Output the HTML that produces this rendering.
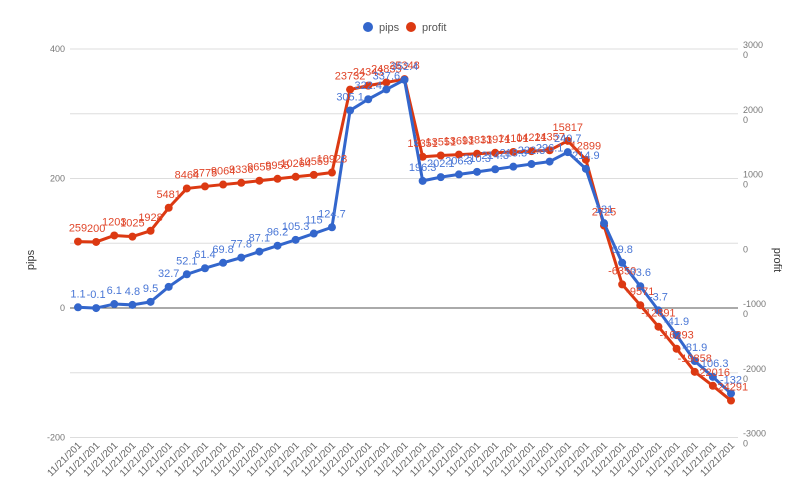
<!DOCTYPE html>
<html><head><meta charset="utf-8">
<style>
body{margin:0;background:#fff;font-family:"Liberation Sans",Arial,sans-serif;}
svg text{font-family:"Liberation Sans",Arial,sans-serif;}
</style></head>
<body>
<svg id="chart" width="800" height="494" viewBox="0 0 800 494" xmlns="http://www.w3.org/2000/svg">
<g id="legend">
  <g><circle cx="368" cy="27" r="5" fill="#3366cc"/><text x="379" y="31" font-size="11" fill="#555">pips</text></g>
  <g><circle cx="411" cy="27" r="5" fill="#dc3912"/><text x="422" y="31" font-size="11" fill="#555">profit</text></g>
</g>
<text transform="translate(34,260) rotate(-90)" text-anchor="middle" font-size="11" fill="#333">pips</text>
<text transform="translate(774,260) rotate(90)" text-anchor="middle" font-size="11" fill="#333">profit</text>
<g id="grid"></g>
<g id="xlabels"></g>
<g id="series"></g>
<g id="labels"></g>
</svg>
<script>
const categories = Array(37).fill("11/21/201");
const pips = [1.1,-0.1,6.1,4.8,9.5,32.7,52.1,61.4,69.8,77.8,87.1,96.2,105.3,115,124.7,305.1,322.4,337.6,352.4,196.3,202.1,206.3,210.3,214.3,218.3,222.3,226.1,240.7,214.9,131,69.8,33.6,-3.7,-41.9,-81.9,-106.3,-132];
const profit = [259,200,1203,1025,1928,5481,8464,8775,9064,9336,9655,9955,10264,10559,10923,23732,24343,24835,25348,13351,13551,13691,13831,13971,14101,14221,14357,15817,12899,2725,-6350,-9571,-12891,-16293,-19858,-22016,-24291];
const pipsTicks = [400,200,0,-200];
const profitTicks = [30000,20000,10000,0,-10000,-20000,-30000];

const NS="http://www.w3.org/2000/svg";
function mk(tag,attrs,parent){const e=document.createElementNS(NS,tag);for(const k in attrs)e.setAttribute(k,attrs[k]);parent.appendChild(e);return e;}
const X0=78,X1=731;
function xs(i){return X0+(X1-X0)*i/(categories.length-1);}
function yL(v){return 308-(v/200)*129.5;}
function yR(v){return 308-((v+10000)/10000)*64.75;}

const grid=document.getElementById('grid');
profitTicks.forEach(t=>{
  const y=yR(t);
  const l=mk('line',{x1:70,x2:738,y1:y,y2:y,stroke:'#ddd','stroke-width':1},grid);
  
  
  const s=String(t), a=s.slice(0,-1), b=s.slice(-1);
  const tx=mk('text',{x:743,y:y-1,'font-size':9,fill:'#777'},grid);
  
  
  tx.textContent=a;
  const tx2=mk('text',{x:743,y:y+9,'font-size':9,fill:'#777'},grid);
  
  
  tx2.textContent=b;
});
pipsTicks.forEach(t=>{
  const y=yL(t);
  const tx=mk('text',{x:65,y:y+3,'font-size':9,fill:'#777','text-anchor':'end'},grid);
  
  
  tx.textContent=t;
});
const zl=mk('line',{x1:70,x2:738,y1:yL(0),y2:yL(0),stroke:'#555','stroke-width':1},grid);



const xl=document.getElementById('xlabels');
categories.forEach((c,i)=>{
  const x=xs(i)+4,y=446;
  const t=mk('text',{x:x,y:y,'font-size':10,fill:'#666','text-anchor':'end',transform:`rotate(-45 ${x} ${y})`},xl);
  
  
  t.textContent=c;
});

const ser=document.getElementById('series'), lab=document.getElementById('labels');
function drawSeries(vals,yf,color,lcolor,name){
  const g=mk('g',{},ser);
  
  
  const p=mk('polyline',{points:vals.map((v,i)=>xs(i)+','+yf(v)).join(' '),fill:'none',stroke:color,'stroke-width':3,'stroke-linejoin':'round'},g);
  
  
  vals.forEach((v,i)=>{
    const c=mk('circle',{cx:xs(i),cy:yf(v),r:4,fill:color},g);
    
    
    const t=mk('text',{x:xs(i),y:yf(v)-10,'font-size':11,fill:lcolor,'text-anchor':'middle'},lab);
    
    
    t.textContent=v;
  });
}
drawSeries(profit,yR,'#dc3912','#e0462a','profit');
drawSeries(pips,yL,'#3366cc','#4a77d6','pips');
</script>
</body></html>
